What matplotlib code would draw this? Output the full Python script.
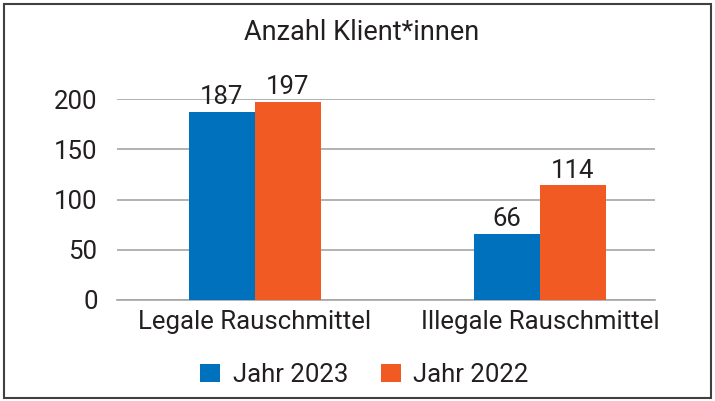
import numpy as np
import matplotlib.pyplot as plt
from matplotlib.patches import Rectangle

categories = ['Legale Rauschmittel', 'Illegale Rauschmittel']
jahr_2023 = [187, 66]
jahr_2022 = [197, 114]
series_names = ['Jahr 2023', 'Jahr 2022']
yticks = [0, 50, 100, 150, 200]

blue = '#0071BC'
orange = '#F15A22'
txt = '#231F20'
plt.rcParams['font.family'] = ['Roboto', 'DejaVu Sans']

fig = plt.figure(figsize=(7.15, 4.01), dpi=100)
ax = fig.add_axes([0.1636, 0.2519, 0.7524, 0.501])

x = np.arange(len(categories))
w = 0.232
b1 = ax.bar(x - w/2, jahr_2023, w, color=blue, label=series_names[0], zorder=3)
b2 = ax.bar(x + w/2, jahr_2022, w, color=orange, label=series_names[1], zorder=3)
for bars in (b1, b2):
    ax.bar_label(bars, padding=2, fontsize=18.5, color=txt)

ax.set_xlim(-0.484, 1.404)
ax.set_ylim(0, 200)
ax.set_yticks(yticks)
ax.set_xticks(x)
ax.set_xticklabels(categories)
ax.yaxis.grid(True, color='#A6A6A6', linewidth=1.2, zorder=0)
ax.tick_params(axis='both', length=0, labelsize=18.5, colors=txt)
ax.tick_params(axis='y', pad=14)
ax.tick_params(axis='x', pad=7)
for s in ['top', 'right', 'left']:
    ax.spines[s].set_visible(False)
ax.spines['bottom'].set_color('#A6A6A6')
ax.spines['bottom'].set_linewidth(1.2)

fig.text(0.506, 0.918, 'Anzahl Klient*innen', ha='center', va='center', fontsize=19.5, color=txt)

fig.legend(handles=[b1, b2], loc='center', bbox_to_anchor=(0.51, 0.065), ncol=2,
           frameon=False, fontsize=18.5, handlelength=0.75, handleheight=0.75,
           handletextpad=0.5, columnspacing=1.3, labelcolor=txt)

fig.patches.append(Rectangle((0.006, 0.008), 0.989, 0.982, transform=fig.transFigure,
                             fill=False, edgecolor='#404040', linewidth=1.5))

fig.savefig('out.png', dpi=100)
